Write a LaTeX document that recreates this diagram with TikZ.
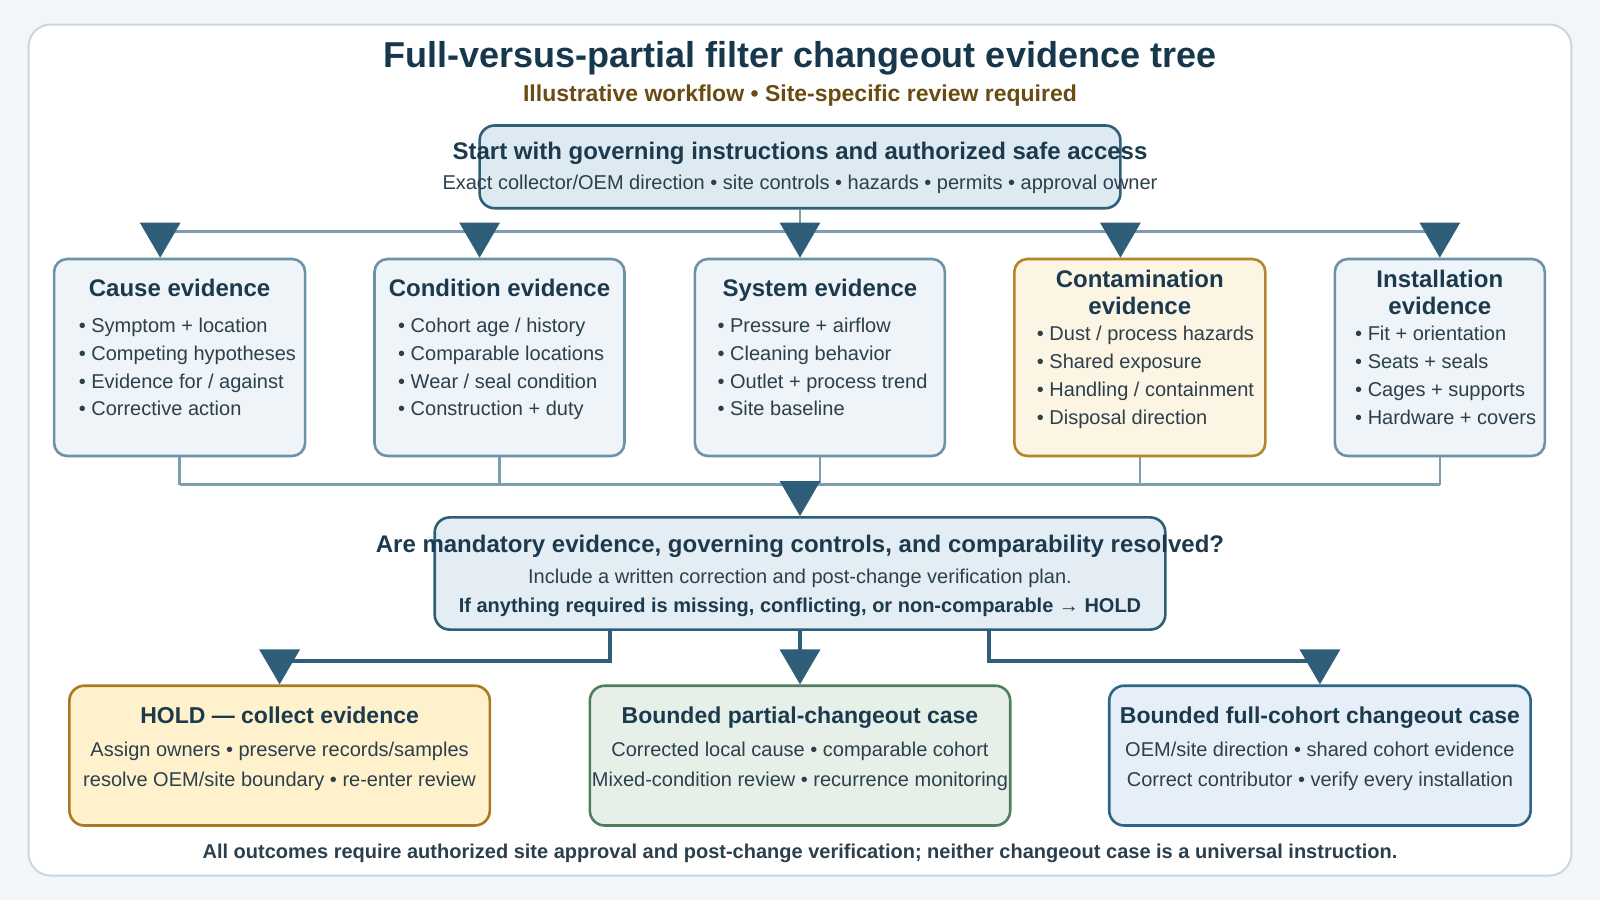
\documentclass[tikz,border=0pt]{standalone}
\usepackage{fontspec}
\setmainfont{Liberation Sans}
\usetikzlibrary{arrows.meta}
\definecolor{bgc}{HTML}{F2F6F8}
\definecolor{panelc}{HTML}{CBD6DD}
\definecolor{titlec}{HTML}{17374D}
\definecolor{subc}{HTML}{6A4C12}
\definecolor{hdc}{HTML}{1B3A4E}
\definecolor{txc}{HTML}{2B3F4C}
\definecolor{darkc}{HTML}{2F5F78}
\definecolor{lightc}{HTML}{7E9DB0}
\definecolor{topfill}{HTML}{DDEAF2}
\definecolor{evfill}{HTML}{EEF4F8}
\definecolor{evdraw}{HTML}{6A92A8}
\definecolor{ctfill}{HTML}{FDF5E3}
\definecolor{ctdraw}{HTML}{B3862B}
\definecolor{decfill}{HTML}{E3EDF3}
\definecolor{holdfill}{HTML}{FEF1CC}
\definecolor{holddraw}{HTML}{A87A21}
\definecolor{partfill}{HTML}{E6F0E8}
\definecolor{partdraw}{HTML}{4F7E5D}
\definecolor{fullfill}{HTML}{E6EFF7}
\definecolor{fulldraw}{HTML}{2F6686}
\begin{document}
\begin{tikzpicture}[x=1pt,y=-1pt,
  box/.style={draw, rounded corners=13pt, line width=2.6pt, inner sep=0pt},
  evbox/.style={box, draw=evdraw, fill=evfill, minimum height=197pt},
  hd/.style={font=\fontsize{24}{28}\selectfont\bfseries, text=hdc, anchor=mid, inner sep=0pt},
  hdb/.style={font=\fontsize{23}{28}\selectfont\bfseries, text=hdc, anchor=mid, inner sep=0pt},
  bl/.style={font=\fontsize{20}{24}\selectfont, text=txc, anchor=mid west, inner sep=0pt},
  ln/.style={font=\fontsize{20}{24}\selectfont, text=txc, anchor=mid, inner sep=0pt},
  light/.style={draw=lightc, line width=2.6pt},
  dark/.style={draw=darkc, line width=3.6pt},
  arr/.style={-{Triangle[width=40pt,length=35pt,fill=darkc,color=darkc]}}
]
\useasboundingbox (0,0) rectangle (1600,900);
\fill[bgc] (0,0) rectangle (1600,900);
\draw[draw=panelc, fill=white, rounded corners=22pt, line width=2pt] (28.6,24.5) rectangle (1571.4,875.5);

% title
\node[font=\fontsize{36}{40}\selectfont\bfseries, text=titlec, anchor=mid, inner sep=0pt] (title) at (800,64.5) {Full-versus-partial filter changeout evidence tree};
\node[font=\fontsize{23}{28}\selectfont\bfseries, text=subc, anchor=mid, inner sep=0pt] (subtitle) at (800,99.1) {Illustrative workflow • Site-specific review required};

% top box
\node[box, draw=darkc, fill=topfill, minimum width=640.8pt, minimum height=82.7pt, rounded corners=15pt] (top) at (800,166.85) {};
\node[hd] (topt) at (800,157.1) {Start with governing instructions and authorized safe access};
\node[ln] (tops) at (800,186.7) {Exact collector/OEM direction • site controls • hazards • permits • approval owner};

% evidence boxes
\node[evbox, minimum width=251pt] (ev1) at (179.6,357.5) {};
\node[evbox, minimum width=250pt] (ev2) at (499.5,357.5) {};
\node[evbox, minimum width=250pt] (ev3) at (819.9,357.5) {};
\node[box, draw=ctdraw, fill=ctfill, minimum width=251pt, minimum height=197pt] (ev4) at (1139.8,357.5) {};
\node[evbox, minimum width=210pt] (ev5) at (1439.8,357.5) {};

\node[hd] (ev1t) at (179.6,293.9) {Cause evidence};
\node[hd] (ev2t) at (499.5,293.9) {Condition evidence};
\node[hd] (ev3t) at (819.9,293.9) {System evidence};
\node[hd] (ev4t) at (1139.8,284.7) {Contamination};
\node[hd] (ev4u) at (1139.8,312.3) {evidence};
\node[hd] (ev5t) at (1439.8,284.7) {Installation};
\node[hd] (ev5u) at (1439.8,312.3) {evidence};

\foreach [count=\i] \t in {Symptom + location, Competing hypotheses, Evidence for / against, Corrective action}
  \node[bl] (ev1b\i) at (78.6,{329.6+27.9*(\i-1)}) {• \t};
\foreach [count=\i] \t in {Cohort age / history, Comparable locations, Wear / seal condition, Construction + duty}
  \node[bl] (ev2b\i) at (398,{329.6+27.9*(\i-1)}) {• \t};
\foreach [count=\i] \t in {Pressure + airflow, Cleaning behavior, Outlet + process trend, Site baseline}
  \node[bl] (ev3b\i) at (717.4,{329.6+27.9*(\i-1)}) {• \t};
\foreach [count=\i] \t in {Dust / process hazards, Shared exposure, Handling / containment, Disposal direction}
  \node[bl] (ev4b\i) at (1036.7,{337.8+27.9*(\i-1)}) {• \t};
\foreach [count=\i] \t in {Fit + orientation, Seats + seals, Cages + supports, Hardware + covers}
  \node[bl] (ev5b\i) at (1355,{337.8+27.9*(\i-1)}) {• \t};

% top distribution
\coordinate (bus0) at (800,231.6);
\coordinate (a1) at (160.2,231.6);
\coordinate (a2) at (479.6,231.6);
\coordinate (a3) at (800,231.6);
\coordinate (a4) at (1120.4,231.6);
\coordinate (a5) at (1439.8,231.6);
\draw[light] (top.south) -- (bus0);
\draw[light] (a1) -- (a5);
\draw[light, arr] (a1) -- (a1 |- ev1.north);
\draw[light, arr] (a2) -- (a2 |- ev2.north);
\draw[light, arr] (a3) -- (a3 |- ev3.north);
\draw[light, arr] (a4) -- (a4 |- ev4.north);
\draw[light, arr] (a5) -- (a5 |- ev5.north);

% decision box
\node[box, draw=darkc, fill=decfill, minimum width=730.6pt, minimum height=112.2pt, rounded corners=15pt] (dec) at (800,573.5) {};
\node[hd] (dect) at (800,550.1) {Are mandatory evidence, governing controls, and comparability resolved?};
\node[ln] (decs) at (800,580.6) {Include a written correction and post-change verification plan.};
\node[font=\fontsize{20}{24}\selectfont\bfseries, text=hdc, anchor=mid, inner sep=0pt] (decu) at (800,610.1) {If anything required is missing, conflicting, or non-comparable → HOLD};

% gather bus
\coordinate (busL) at (179.6,484.7);
\coordinate (busR) at (1439.8,484.7);
\coordinate (bmid) at (800,484.7);
\draw[light] (busL) -- (busR);
\foreach \n in {ev1,ev2,ev3,ev4,ev5}
  \draw[light] (\n.south) -- (\n.south |- busL);
\draw[light, arr] (bmid) -- (dec.north);

% outcome boxes
\node[box, draw=holddraw, fill=holdfill, minimum width=420.4pt, minimum height=139.8pt, rounded corners=15pt] (hold) at (279.6,755.6) {};
\node[box, draw=partdraw, fill=partfill, minimum width=420.4pt, minimum height=139.8pt, rounded corners=15pt] (part) at (800,755.6) {};
\node[box, draw=fulldraw, fill=fullfill, minimum width=421.4pt, minimum height=139.8pt, rounded corners=15pt] (full) at (1319.9,755.6) {};

\node[hdb] (holdt) at (279.6,721.1) {HOLD — collect evidence};
\node[ln] (holda) at (279.6,754.1) {Assign owners • preserve records/samples};
\node[ln] (holdb) at (279.6,783.7) {resolve OEM/site boundary • re-enter review};
\node[hdb] (partt) at (800,721.1) {Bounded partial-changeout case};
\node[ln] (parta) at (800,754.1) {Corrected local cause • comparable cohort};
\node[ln] (partb) at (800,783.7) {Mixed-condition review • recurrence monitoring};
\node[hdb] (fullt) at (1319.9,721.1) {Bounded full-cohort changeout case};
\node[ln] (fulla) at (1319.9,754.1) {OEM/site direction • shared cohort evidence};
\node[ln] (fullb) at (1319.9,783.7) {Correct contributor • verify every installation};

% decision branches
\coordinate (dlx) at (610,661);
\coordinate (drx) at (988.8,661);
\draw[dark, arr] (dec.south -| dlx) |- (hold.north |- dlx) -- (hold.north);
\draw[dark, arr] (dec.south) -- (part.north);
\draw[dark, arr] (dec.south -| drx) |- (full.north |- drx) -- (full.north);

% footer
\node[font=\fontsize{20}{24}\selectfont\bfseries, text=txc, anchor=mid, inner sep=0pt] (foot) at (800,856.1) {All outcomes require authorized site approval and post-change verification; neither changeout case is a universal instruction.};
\end{tikzpicture}
\end{document}
